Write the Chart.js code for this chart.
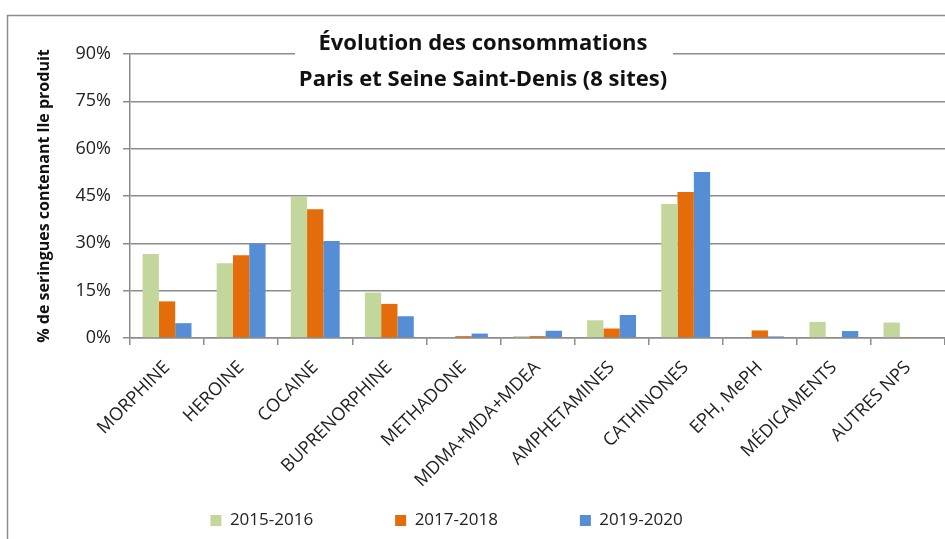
<!DOCTYPE html>
<html lang="fr">
<head>
<meta charset="utf-8">
<title>Évolution des consommations</title>
<script src="https://cdn.jsdelivr.net/npm/chart.js@4.4.1/dist/chart.umd.min.js"></script>
<style>
  html, body { margin: 0; padding: 0; background: #fff; }
  #wrap { position: relative; width: 945px; height: 539px; overflow: hidden; }
</style>
</head>
<body>
<div id="wrap"><canvas id="chart" width="945" height="539"></canvas></div>
<script>
const categories = [
  "MORPHINE", "HEROINE", "COCAINE", "BUPRENORPHINE", "METHADONE",
  "MDMA+MDA+MDEA", "AMPHETAMINES", "CATHINONES", "EPH, MePH",
  "MÉDICAMENTS", "AUTRES NPS"
];
const seriesNames = ["2015-2016", "2017-2018", "2019-2020"];
const values2015 = [26.6, 23.7, 44.8, 14.4, 0.3, 0.6, 5.6, 42.5, 0, 5.1, 4.9];
const values2017 = [11.6, 26.2, 40.8, 10.8, 0.6, 0.6, 3.0, 46.3, 2.4, 0.3, 0.3];
const values2019 = [4.7, 29.9, 30.7, 6.9, 1.4, 2.3, 7.3, 52.6, 0.5, 2.2, 0];
const yTicks = [0, 15, 30, 45, 60, 75, 90];
const titleLines = ["Évolution des consommations", "Paris et Seine Saint-Denis (8 sites)"];
const yTitle = "% de seringues contenant lle produit";

const colors = ["#C3D69B", "#E46C0A", "#558ED5"];
const gridGray = "#8c8c8c";
const textColor = "#222";
const fontFamily = "'Open Sans', 'Noto Sans', sans-serif";
const legendPad = 82;

// cadre du graphique (bord gauche et haut visibles)
const framePlugin = {
  id: "frame",
  beforeDraw(chart) {
    const ctx = chart.ctx;
    ctx.save();
    ctx.strokeStyle = gridGray;
    ctx.lineWidth = 1.5;
    ctx.strokeRect(7.5, 15.5, 2000, 2000);
    ctx.restore();
  },
};

// titre posé sur la zone de tracé, avec fond blanc
const titlePlugin = {
  id: "overTitle",
  afterDraw(chart) {
    const ctx = chart.ctx;
    ctx.save();
    ctx.fillStyle = "#fff";
    ctx.fillRect(295, 30, 378, 64);
    ctx.fillStyle = "#111";
    ctx.font = "bold 22px " + fontFamily;
    ctx.textAlign = "center";
    ctx.textBaseline = "middle";
    ctx.fillText(titleLines[0], 483, 44);
    ctx.fillText(titleLines[1], 483, 80);
    ctx.restore();
  },
};

// légende : place ses items comme dans l'original (un peu à gauche, y ~520)
const legendShift = {
  id: "legendShift",
  afterLayout(chart) {
    const lg = chart.legend;
    if (!lg) return;
    lg.left -= 26;
    lg.right -= 26;
    lg.top = 512 - legendPad;
  },
};

new Chart(document.getElementById("chart"), {
  type: "bar",
  data: {
    labels: categories,
    datasets: [values2015, values2017, values2019].map((d, i) => ({
      label: seriesNames[i],
      data: d,
      backgroundColor: colors[i],
      borderWidth: 0,
      barPercentage: 1,
      categoryPercentage: 0.66,
    })),
  },
  options: {
    responsive: false,
    animation: false,
    devicePixelRatio: 1,
    layout: { padding: { top: 54, right: 0, left: 0, bottom: 0 } },
    plugins: {
      legend: {
        position: "bottom",
        maxHeight: 40,
        labels: {
          boxWidth: 11,
          boxHeight: 11,
          padding: legendPad,
          color: textColor,
          font: { family: fontFamily, size: 17 },
        },
      },
      tooltip: { enabled: false },
    },
    scales: {
      x: {
        grid: {
          offset: true,
          drawOnChartArea: false,
          tickLength: 7,
          color: gridGray,
          lineWidth: 1.5,
        },
        border: { color: gridGray, width: 1.5 },
        ticks: {
          autoSkip: false,
          minRotation: 45,
          maxRotation: 45,
          padding: 12,
          color: textColor,
          font: { family: fontFamily, size: 18 },
        },
        afterFit(s) { s.height = 161; },
      },
      y: {
        min: 0,
        max: 90,
        afterBuildTicks(s) { s.ticks = yTicks.map((v) => ({ value: v })); },
        grid: { color: gridGray, lineWidth: 1.5, tickLength: 7 },
        border: { color: gridGray, width: 1.5 },
        ticks: {
          padding: 12,
          color: textColor,
          font: { family: fontFamily, size: 18 },
          callback: (v) => v + "%",
        },
        title: {
          display: true,
          text: yTitle,
          color: "#111",
          padding: { top: 35, bottom: 0 },
          font: { family: fontFamily, size: 16, weight: "bold" },
        },
        afterFit(s) { s.width = 130; },
      },
    },
  },
  plugins: [framePlugin, titlePlugin, legendShift],
});
</script>
</body>
</html>
